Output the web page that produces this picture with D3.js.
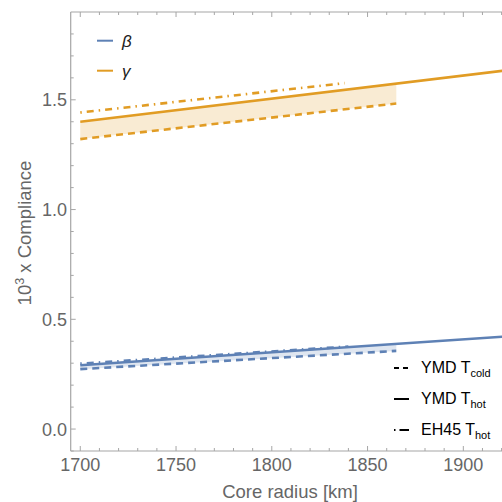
<!DOCTYPE html>
<html>
<head>
<meta charset="utf-8">
<script src="https://cdn.jsdelivr.net/npm/d3@7"></script>
<style>
  body { margin: 0; background: #fff; }
  svg text { font-family: "Liberation Sans", Arial, sans-serif; }
</style>
</head>
<body>
<div id="viz"></div>
<script>
// radius [km] / compliance (x 10^3)
const xMajorTicks = [1700, 1750, 1800, 1850, 1900];
const yMajorTicks = [0.0, 0.5, 1.0, 1.5];

const gammaHot  = [[1700, 1.400], [1925, 1.637]];
const gammaCold = [[1700, 1.321], [1865, 1.483]];
const gammaEH45 = [[1700, 1.442], [1838, 1.576]];
const gammaBand = [[1700, 1.321, 1.400], [1865, 1.483, 1.570]];

const betaHot  = [[1700, 0.291], [1925, 0.423]];
const betaCold = [[1700, 0.273], [1865, 0.356]];
const betaEH45 = [[1700, 0.298], [1840, 0.376]];
const betaBand = [[1700, 0.273, 0.291], [1865, 0.356, 0.388]];

const legendStyles = ['YMD T|cold', 'YMD T|hot', 'EH45 T|hot'];

function drawViz() {
  const width = 502;
  const height = 502;
  const left = 70.7, right = 502, top = 12, bottom = 451;

  const svg = d3.select('#viz')
    .html('')
    .append('svg')
    .attr('width', width)
    .attr('height', height);

  const x = d3.scaleLinear().domain([1695, 1920.2]).range([left, right]);
  const y = d3.scaleLinear().domain([-0.1, 1.9]).range([bottom, top]);

  const blue = '#5e81b5';
  const orange = '#e19c24';
  const frame = '#a6a6a6';
  const grey = '#666666';

  svg.append('clipPath').attr('id', 'clip')
    .append('rect')
    .attr('x', left).attr('y', top)
    .attr('width', right - left).attr('height', bottom - top);

  const plot = svg.append('g').attr('clip-path', 'url(#clip)');

  const area = d3.area()
    .x(d => x(d[0]))
    .y0(d => y(d[1]))
    .y1(d => y(d[2]));

  plot.append('path').datum(gammaBand)
    .attr('d', area).attr('fill', '#f9ebd3');
  plot.append('path').datum(betaBand)
    .attr('d', area).attr('fill', '#dfe6f0');

  const line = d3.line().x(d => x(d[0])).y(d => y(d[1]));
  const dashed = '7,5';
  const dashDot = '1.5,5,7,5';

  const series = [
    [betaCold, blue, dashed],
    [betaEH45, blue, dashDot],
    [betaHot, blue, null],
    [gammaCold, orange, dashed],
    [gammaEH45, orange, dashDot],
    [gammaHot, orange, null]
  ];
  series.forEach(s => {
    plot.append('path').datum(s[0])
      .attr('d', line)
      .attr('fill', 'none')
      .attr('stroke', s[1])
      .attr('stroke-width', 2.6)
      .attr('stroke-dasharray', s[2]);
  });

  // frame
  svg.append('line')
    .attr('x1', left).attr('x2', left).attr('y1', top).attr('y2', bottom)
    .attr('stroke', frame).attr('stroke-width', 1.2);
  svg.append('line')
    .attr('x1', left).attr('x2', right).attr('y1', bottom).attr('y2', bottom)
    .attr('stroke', frame).attr('stroke-width', 1.2);
  svg.append('line')
    .attr('x1', left).attr('x2', right).attr('y1', top).attr('y2', top)
    .attr('stroke', frame).attr('stroke-width', 1.2);

  // x ticks, bottom and top, pointing inward
  const xMinor = d3.range(1700, 1921, 10);
  xMinor.forEach(v => {
    const len = xMajorTicks.includes(v) ? 5 : 3;
    svg.append('line')
      .attr('x1', x(v)).attr('x2', x(v))
      .attr('y1', bottom).attr('y2', bottom - len)
      .attr('stroke', frame);
    svg.append('line')
      .attr('x1', x(v)).attr('x2', x(v))
      .attr('y1', top).attr('y2', top + len)
      .attr('stroke', frame);
  });
  svg.selectAll('.xlab')
    .data(xMajorTicks)
    .enter()
    .append('text')
    .attr('x', d => x(d))
    .attr('y', 471)
    .attr('text-anchor', 'middle')
    .attr('font-size', 18)
    .attr('fill', grey)
    .text(d => d);

  // y ticks
  const yMinor = d3.range(-1, 19).map(i => i / 10);
  yMinor.forEach(v => {
    const len = yMajorTicks.some(t => Math.abs(t - v) < 1e-9) ? 5 : 3;
    svg.append('line')
      .attr('x1', left).attr('x2', left + len)
      .attr('y1', y(v)).attr('y2', y(v))
      .attr('stroke', frame);
  });
  svg.selectAll('.ylab')
    .data(yMajorTicks)
    .enter()
    .append('text')
    .attr('x', 67)
    .attr('y', d => y(d) + 6.5)
    .attr('text-anchor', 'end')
    .attr('font-size', 18)
    .attr('fill', grey)
    .text(d => d.toFixed(1));

  // axis labels
  svg.append('text')
    .attr('x', 290).attr('y', 498)
    .attr('text-anchor', 'middle')
    .attr('font-size', 18.5)
    .attr('fill', grey)
    .text('Core radius [km]');

  const yl = svg.append('text')
    .attr('transform', 'translate(31,233) rotate(-90)')
    .attr('text-anchor', 'middle')
    .attr('font-size', 18.5)
    .attr('fill', grey);
  yl.append('tspan').text('10');
  yl.append('tspan').attr('dy', -7).attr('font-size', 12.5).text('3');
  yl.append('tspan').attr('dy', 7).text(' x Compliance');

  // top-left legend
  [['β', blue, 40.7], ['γ', orange, 70.7]].forEach(l => {
    svg.append('line')
      .attr('x1', 97).attr('x2', 113)
      .attr('y1', l[2]).attr('y2', l[2])
      .attr('stroke', l[1]).attr('stroke-width', 2);
    svg.append('text')
      .attr('x', 122).attr('y', l[2] + 6)
      .attr('font-size', 17)
      .attr('font-style', 'italic')
      .attr('fill', '#222')
      .text(l[0]);
  });

  // bottom-right legend
  const dashes = ['5,4', null, '1.5,4,8,0'];
  legendStyles.forEach((lab, i) => {
    const ly = 368 + i * 31;
    svg.append('line')
      .attr('x1', 394).attr('x2', 409)
      .attr('y1', ly).attr('y2', ly)
      .attr('stroke', '#000').attr('stroke-width', 2)
      .attr('stroke-dasharray', dashes[i]);
    const parts = lab.split('|');
    const t = svg.append('text')
      .attr('x', 421).attr('y', ly + 5)
      .attr('font-size', 16)
      .attr('fill', '#000');
    t.append('tspan').text(parts[0]);
    t.append('tspan').attr('dy', 4).attr('font-size', 11).text(parts[1]);
  });
}

drawViz();
</script>
</body>
</html>
